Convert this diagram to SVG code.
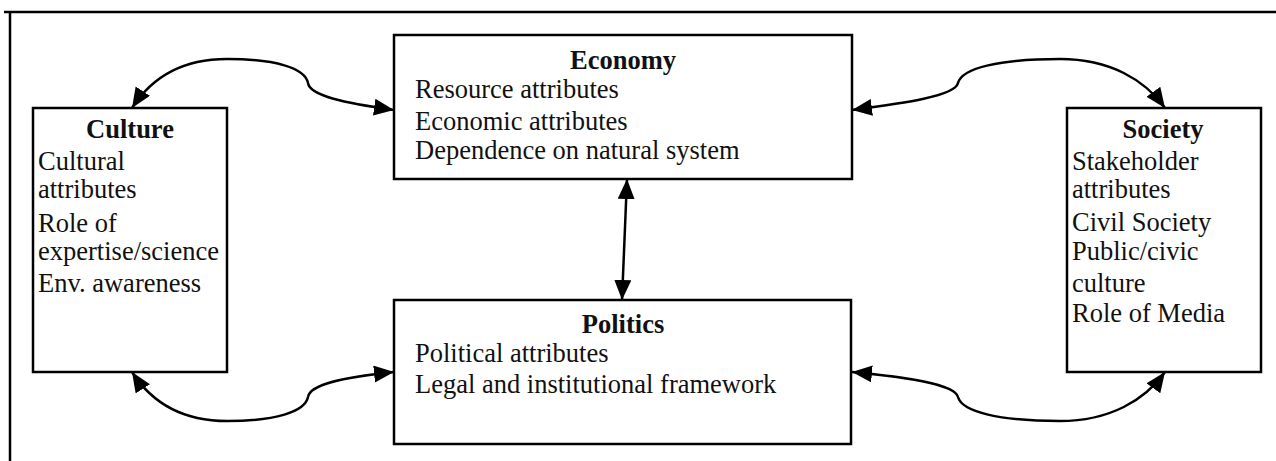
<svg xmlns="http://www.w3.org/2000/svg" width="1276" height="461" viewBox="0 0 1276 461">
<style>
.box{fill:#fff;stroke:#000;stroke-width:2.5}
.t{font-family:"Liberation Serif","Times New Roman",serif;font-size:26.5px;fill:#111}
.h{font-weight:bold;text-anchor:middle}
.c{fill:none;stroke:#000;stroke-width:2.5;marker-start:url(#ah);marker-end:url(#ah)}
.frame{fill:none;stroke:#000;stroke-width:2.5}
</style>
<defs>
<marker id="ah" markerUnits="userSpaceOnUse" markerWidth="22" markerHeight="18" refX="20" refY="8.5" orient="auto-start-reverse">
<path d="M0,0 L20,8.5 L0,17 z" fill="#000"/>
</marker>
</defs>
<rect width="1276" height="461" fill="#fff"/>
<path class="frame" d="M4,12 L1276,12 M10,12 L10,461"/>
<g id="connectors">
<path class="c" d="M132,108 C150,80 180,59 227,59 C275,59 305,68 308,83 C310,96 345,103 394,110"/>
<path class="c" d="M132,372 C150,400 180,421 227,421 C275,421 305,412 308,397 C310,384 345,377 394,372"/>
<path class="c" d="M852,110 C905,103 955,96 958,83 C962,68 1000,59 1060,59 C1110,59 1145,80 1165,108"/>
<path class="c" d="M852,372 C905,377 955,384 958,397 C962,412 1000,421 1060,421 C1110,421 1145,400 1165,372"/>
<path class="c" d="M627,179 L622,300"/>
</g>
<g id="economy">
<rect class="box" x="394" y="35" width="458" height="144"/>
<text class="t h" x="623" y="69">Economy</text>
<text class="t" x="415" y="98">Resource attributes</text>
<text class="t" x="415" y="130">Economic attributes</text>
<text class="t" x="415" y="159">Dependence on natural system</text>
</g>
<g id="politics">
<rect class="box" x="394" y="300" width="457" height="144"/>
<text class="t h" x="623" y="333">Politics</text>
<text class="t" x="415" y="362">Political attributes</text>
<text class="t" x="415" y="393">Legal and institutional framework</text>
</g>
<g id="culture">
<rect class="box" x="33" y="108" width="194" height="264"/>
<text class="t h" x="130" y="138">Culture</text>
<text class="t" x="38" y="170">Cultural</text>
<text class="t" x="38" y="198">attributes</text>
<text class="t" x="38" y="232">Role of</text>
<text class="t" x="38" y="260">expertise/science</text>
<text class="t" x="38" y="292">Env. awareness</text>
</g>
<g id="society">
<rect class="box" x="1067" y="108" width="194" height="264"/>
<text class="t h" x="1163" y="138">Society</text>
<text class="t" x="1072" y="170">Stakeholder</text>
<text class="t" x="1072" y="198">attributes</text>
<text class="t" x="1072" y="231">Civil Society</text>
<text class="t" x="1072" y="260">Public/civic</text>
<text class="t" x="1072" y="292">culture</text>
<text class="t" x="1072" y="322">Role of Media</text>
</g>
</svg>
